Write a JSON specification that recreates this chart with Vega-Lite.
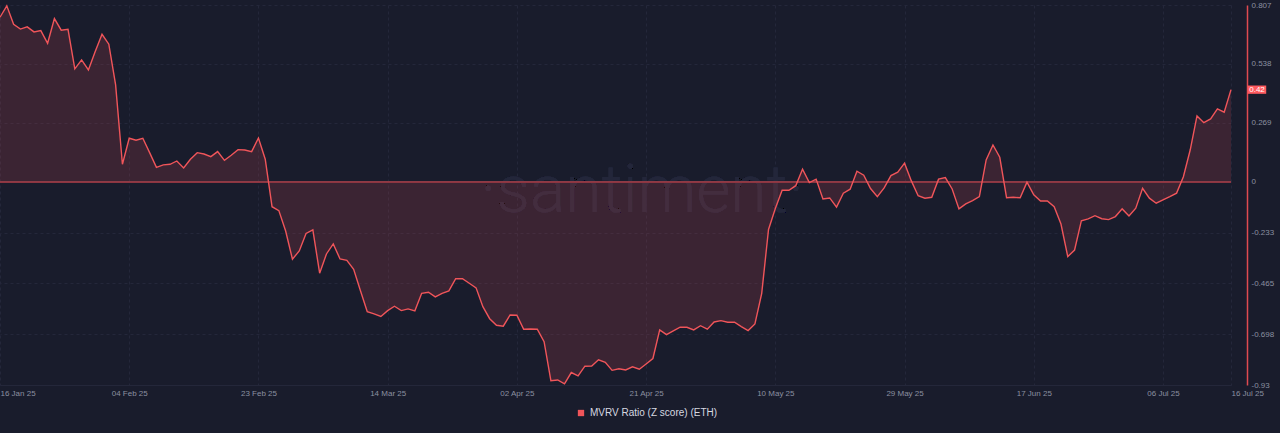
{
  "$schema": "https://vega.github.io/schema/vega-lite/v6.json",
  "width": 1231,
  "height": 380,
  "autosize": {"type": "none"},
  "padding": {"left": 0, "top": 5, "right": 49, "bottom": 48},
  "background": "#191c2c",
  "config": {"view": {"stroke": null}, "font": "Liberation Sans"},
  "data": {"values": [
    {"d":"2025-01-16","v":0.751},{"d":"2025-01-17","v":0.803},{"d":"2025-01-18","v":0.719},{"d":"2025-01-19","v":0.697},{"d":"2025-01-20","v":0.707},{"d":"2025-01-21","v":0.684},{"d":"2025-01-22","v":0.690},{"d":"2025-01-23","v":0.632},{"d":"2025-01-24","v":0.745},{"d":"2025-01-25","v":0.692},{"d":"2025-01-26","v":0.696},{"d":"2025-01-27","v":0.515},{"d":"2025-01-28","v":0.556},{"d":"2025-01-29","v":0.510},{"d":"2025-01-30","v":0.594},{"d":"2025-01-31","v":0.673},
    {"d":"2025-02-01","v":0.628},{"d":"2025-02-02","v":0.442},{"d":"2025-02-03","v":0.079},{"d":"2025-02-04","v":0.198},{"d":"2025-02-05","v":0.189},{"d":"2025-02-06","v":0.198},{"d":"2025-02-07","v":0.132},{"d":"2025-02-08","v":0.065},{"d":"2025-02-09","v":0.076},{"d":"2025-02-10","v":0.079},{"d":"2025-02-11","v":0.094},{"d":"2025-02-12","v":0.062},{"d":"2025-02-13","v":0.102},{"d":"2025-02-14","v":0.132},{"d":"2025-02-15","v":0.126},{"d":"2025-02-16","v":0.114},{"d":"2025-02-17","v":0.137},{"d":"2025-02-18","v":0.097},{"d":"2025-02-19","v":0.120},{"d":"2025-02-20","v":0.146},{"d":"2025-02-21","v":0.144},{"d":"2025-02-22","v":0.137},{"d":"2025-02-23","v":0.199},{"d":"2025-02-24","v":0.102},{"d":"2025-02-25","v":-0.115},{"d":"2025-02-26","v":-0.133},{"d":"2025-02-27","v":-0.226},{"d":"2025-02-28","v":-0.355},
    {"d":"2025-03-01","v":-0.317},{"d":"2025-03-02","v":-0.237},{"d":"2025-03-03","v":-0.221},{"d":"2025-03-04","v":-0.419},{"d":"2025-03-05","v":-0.331},{"d":"2025-03-06","v":-0.285},{"d":"2025-03-07","v":-0.354},{"d":"2025-03-08","v":-0.360},{"d":"2025-03-09","v":-0.401},{"d":"2025-03-10","v":-0.499},{"d":"2025-03-11","v":-0.595},{"d":"2025-03-12","v":-0.605},{"d":"2025-03-13","v":-0.617},{"d":"2025-03-14","v":-0.590},{"d":"2025-03-15","v":-0.570},{"d":"2025-03-16","v":-0.590},{"d":"2025-03-17","v":-0.582},{"d":"2025-03-18","v":-0.591},{"d":"2025-03-19","v":-0.511},{"d":"2025-03-20","v":-0.506},{"d":"2025-03-21","v":-0.527},{"d":"2025-03-22","v":-0.511},{"d":"2025-03-23","v":-0.500},{"d":"2025-03-24","v":-0.444},{"d":"2025-03-25","v":-0.444},{"d":"2025-03-26","v":-0.465},{"d":"2025-03-27","v":-0.486},{"d":"2025-03-28","v":-0.572},{"d":"2025-03-29","v":-0.627},{"d":"2025-03-30","v":-0.657},{"d":"2025-03-31","v":-0.661},
    {"d":"2025-04-01","v":-0.610},{"d":"2025-04-02","v":-0.611},{"d":"2025-04-03","v":-0.675},{"d":"2025-04-04","v":-0.674},{"d":"2025-04-05","v":-0.675},{"d":"2025-04-06","v":-0.732},{"d":"2025-04-07","v":-0.910},{"d":"2025-04-08","v":-0.907},{"d":"2025-04-09","v":-0.925},{"d":"2025-04-10","v":-0.873},{"d":"2025-04-11","v":-0.888},{"d":"2025-04-12","v":-0.844},{"d":"2025-04-13","v":-0.843},{"d":"2025-04-14","v":-0.815},{"d":"2025-04-15","v":-0.826},{"d":"2025-04-16","v":-0.863},{"d":"2025-04-17","v":-0.856},{"d":"2025-04-18","v":-0.861},{"d":"2025-04-19","v":-0.847},{"d":"2025-04-20","v":-0.858},{"d":"2025-04-21","v":-0.834},{"d":"2025-04-22","v":-0.809},{"d":"2025-04-23","v":-0.678},{"d":"2025-04-24","v":-0.700},{"d":"2025-04-25","v":-0.683},{"d":"2025-04-26","v":-0.666},{"d":"2025-04-27","v":-0.666},{"d":"2025-04-28","v":-0.678},{"d":"2025-04-29","v":-0.659},{"d":"2025-04-30","v":-0.675},
    {"d":"2025-05-01","v":-0.642},{"d":"2025-05-02","v":-0.636},{"d":"2025-05-03","v":-0.643},{"d":"2025-05-04","v":-0.643},{"d":"2025-05-05","v":-0.663},{"d":"2025-05-06","v":-0.681},{"d":"2025-05-07","v":-0.651},{"d":"2025-05-08","v":-0.511},{"d":"2025-05-09","v":-0.219},{"d":"2025-05-10","v":-0.123},{"d":"2025-05-11","v":-0.040},{"d":"2025-05-12","v":-0.040},{"d":"2025-05-13","v":-0.019},{"d":"2025-05-14","v":0.056},{"d":"2025-05-15","v":-0.005},{"d":"2025-05-16","v":0.011},{"d":"2025-05-17","v":-0.080},{"d":"2025-05-18","v":-0.075},{"d":"2025-05-19","v":-0.117},{"d":"2025-05-20","v":-0.053},{"d":"2025-05-21","v":-0.035},{"d":"2025-05-22","v":0.047},{"d":"2025-05-23","v":0.029},{"d":"2025-05-24","v":-0.032},{"d":"2025-05-25","v":-0.069},{"d":"2025-05-26","v":-0.029},{"d":"2025-05-27","v":0.027},{"d":"2025-05-28","v":0.043},{"d":"2025-05-29","v":0.084},{"d":"2025-05-30","v":0.003},{"d":"2025-05-31","v":-0.065},
    {"d":"2025-06-01","v":-0.076},{"d":"2025-06-02","v":-0.072},{"d":"2025-06-03","v":0.011},{"d":"2025-06-04","v":0.018},{"d":"2025-06-05","v":-0.034},{"d":"2025-06-06","v":-0.125},{"d":"2025-06-07","v":-0.102},{"d":"2025-06-08","v":-0.087},{"d":"2025-06-09","v":-0.069},{"d":"2025-06-10","v":0.099},{"d":"2025-06-11","v":0.167},{"d":"2025-06-12","v":0.111},{"d":"2025-06-13","v":-0.074},{"d":"2025-06-14","v":-0.072},{"d":"2025-06-15","v":-0.074},{"d":"2025-06-16","v":-0.003},{"d":"2025-06-17","v":-0.061},{"d":"2025-06-18","v":-0.089},{"d":"2025-06-19","v":-0.089},{"d":"2025-06-20","v":-0.115},{"d":"2025-06-21","v":-0.194},{"d":"2025-06-22","v":-0.343},{"d":"2025-06-23","v":-0.313},{"d":"2025-06-24","v":-0.179},{"d":"2025-06-25","v":-0.171},{"d":"2025-06-26","v":-0.156},{"d":"2025-06-27","v":-0.170},{"d":"2025-06-28","v":-0.174},{"d":"2025-06-29","v":-0.160},{"d":"2025-06-30","v":-0.125},
    {"d":"2025-07-01","v":-0.157},{"d":"2025-07-02","v":-0.122},{"d":"2025-07-03","v":-0.031},{"d":"2025-07-04","v":-0.076},{"d":"2025-07-05","v":-0.099},{"d":"2025-07-06","v":-0.084},{"d":"2025-07-07","v":-0.069},{"d":"2025-07-08","v":-0.053},{"d":"2025-07-09","v":0.022},{"d":"2025-07-10","v":0.144},{"d":"2025-07-11","v":0.300},{"d":"2025-07-12","v":0.269},{"d":"2025-07-13","v":0.286},{"d":"2025-07-14","v":0.332},{"d":"2025-07-15","v":0.317},{"d":"2025-07-16","v":0.420}
  ]},
  "layer": [
    {
      "mark": {"type": "text", "text": "·santiment·", "font": "Roboto", "fontWeight": 300, "fontSize": 66, "color": "#23263a", "align": "center", "baseline": "alphabetic"},
      "encoding": {
        "x": {
          "datum": {"year": 2025, "month": 4, "date": 20, "hours": 10, "utc": true}, "type": "temporal",
          "scale": {"type": "utc", "domain": [{"year": 2025, "month": 1, "date": 16, "utc": true}, {"year": 2025, "month": 7, "date": 16, "utc": true}]},
          "axis": {
            "title": null,
            "values": [
              {"year": 2025, "month": 1, "date": 16, "utc": true},
              {"year": 2025, "month": 2, "date": 4, "utc": true},
              {"year": 2025, "month": 2, "date": 23, "utc": true},
              {"year": 2025, "month": 3, "date": 14, "utc": true},
              {"year": 2025, "month": 4, "date": 2, "utc": true},
              {"year": 2025, "month": 4, "date": 21, "utc": true},
              {"year": 2025, "month": 5, "date": 10, "utc": true},
              {"year": 2025, "month": 5, "date": 29, "utc": true},
              {"year": 2025, "month": 6, "date": 17, "utc": true},
              {"year": 2025, "month": 7, "date": 6, "utc": true},
              {"year": 2025, "month": 7, "date": 16, "utc": true}
            ],
            "format": "%d %b %y",
            "labelColor": "#8b90a0",
            "labelFontSize": 8,
            "labelPadding": 4,
            "labelFlush": false,
            "labelAlign": {"condition": {"test": "datum.value <= utc(2025,0,16) || datum.value >= utc(2025,6,16)", "value": "left"}, "value": "center"},
            "ticks": false,
            "domainColor": "#24273a",
            "grid": true,
            "gridColor": "#24273a",
            "gridDash": [3, 3]
          }
        },
        "y": {
          "datum": -0.14, "type": "quantitative",
          "scale": {"domain": [-0.93, 0.807], "nice": false, "zero": false},
          "axis": {
            "title": null,
            "orient": "right",
            "offset": 16,
            "values": [0.807, 0.538, 0.269, 0, -0.233, -0.465, -0.698, -0.93],
            "labelExpr": "'' + datum.value",
            "labelColor": "#8b90a0",
            "labelFontSize": 8,
            "labelPadding": 4,
            "ticks": false,
            "domainColor": "#e04a50",
            "domainWidth": 1.5,
            "grid": true,
            "gridColor": "#24273a",
            "gridDash": [3, 3]
          }
        }
      }
    },
    {
      "mark": {"type": "area", "color": "#f0555a", "fillOpacity": 0.155},
      "encoding": {
        "x": {"field": "d", "type": "temporal"},
        "y": {"field": "v", "type": "quantitative"},
        "y2": {"datum": 0}
      }
    },
    {
      "mark": {"type": "rule", "color": "#8e3b46", "strokeWidth": 1.3},
      "encoding": {"y": {"datum": 0, "type": "quantitative"}}
    },
    {
      "mark": {"type": "line", "strokeWidth": 1.4, "interpolate": "linear"},
      "encoding": {
        "x": {"field": "d", "type": "temporal"},
        "y": {"field": "v", "type": "quantitative"},
        "color": {
          "datum": "MVRV Ratio (Z score) (ETH)",
          "scale": {"range": ["#f0555a"]},
          "legend": {
            "title": null,
            "orient": "none",
            "legendX": 576,
            "legendY": 403,
            "padding": 0,
            "symbolType": "square",
            "symbolSize": 40,
            "symbolFillColor": "#f0555a",
            "symbolStrokeColor": "#f0555a",
            "symbolStrokeWidth": 0,
            "labelColor": "#d6d8e0",
            "labelFontSize": 10,
            "labelOffset": 4
          }
        }
      }
    },
    {
      "transform": [{"filter": {"field": "d", "equal": {"year": 2025, "month": 7, "date": 16, "utc": true}}}],
      "mark": {"type": "point", "shape": "M-1,-0.45L1,-0.45L1,0.45L-1,0.45Z", "size": 340, "filled": true, "fill": "#ff5a5f", "opacity": 1, "xOffset": 26},
      "encoding": {
        "x": {"field": "d", "type": "temporal"},
        "y": {"field": "v", "type": "quantitative"}
      }
    },
    {
      "transform": [{"filter": {"field": "d", "equal": {"year": 2025, "month": 7, "date": 16, "utc": true}}}],
      "mark": {"type": "text", "fontSize": 8, "color": "#ffffff", "align": "center", "baseline": "middle", "xOffset": 26},
      "encoding": {
        "x": {"field": "d", "type": "temporal"},
        "y": {"field": "v", "type": "quantitative"},
        "text": {"field": "v", "type": "quantitative", "format": ".2f"}
      }
    }
  ]
}
